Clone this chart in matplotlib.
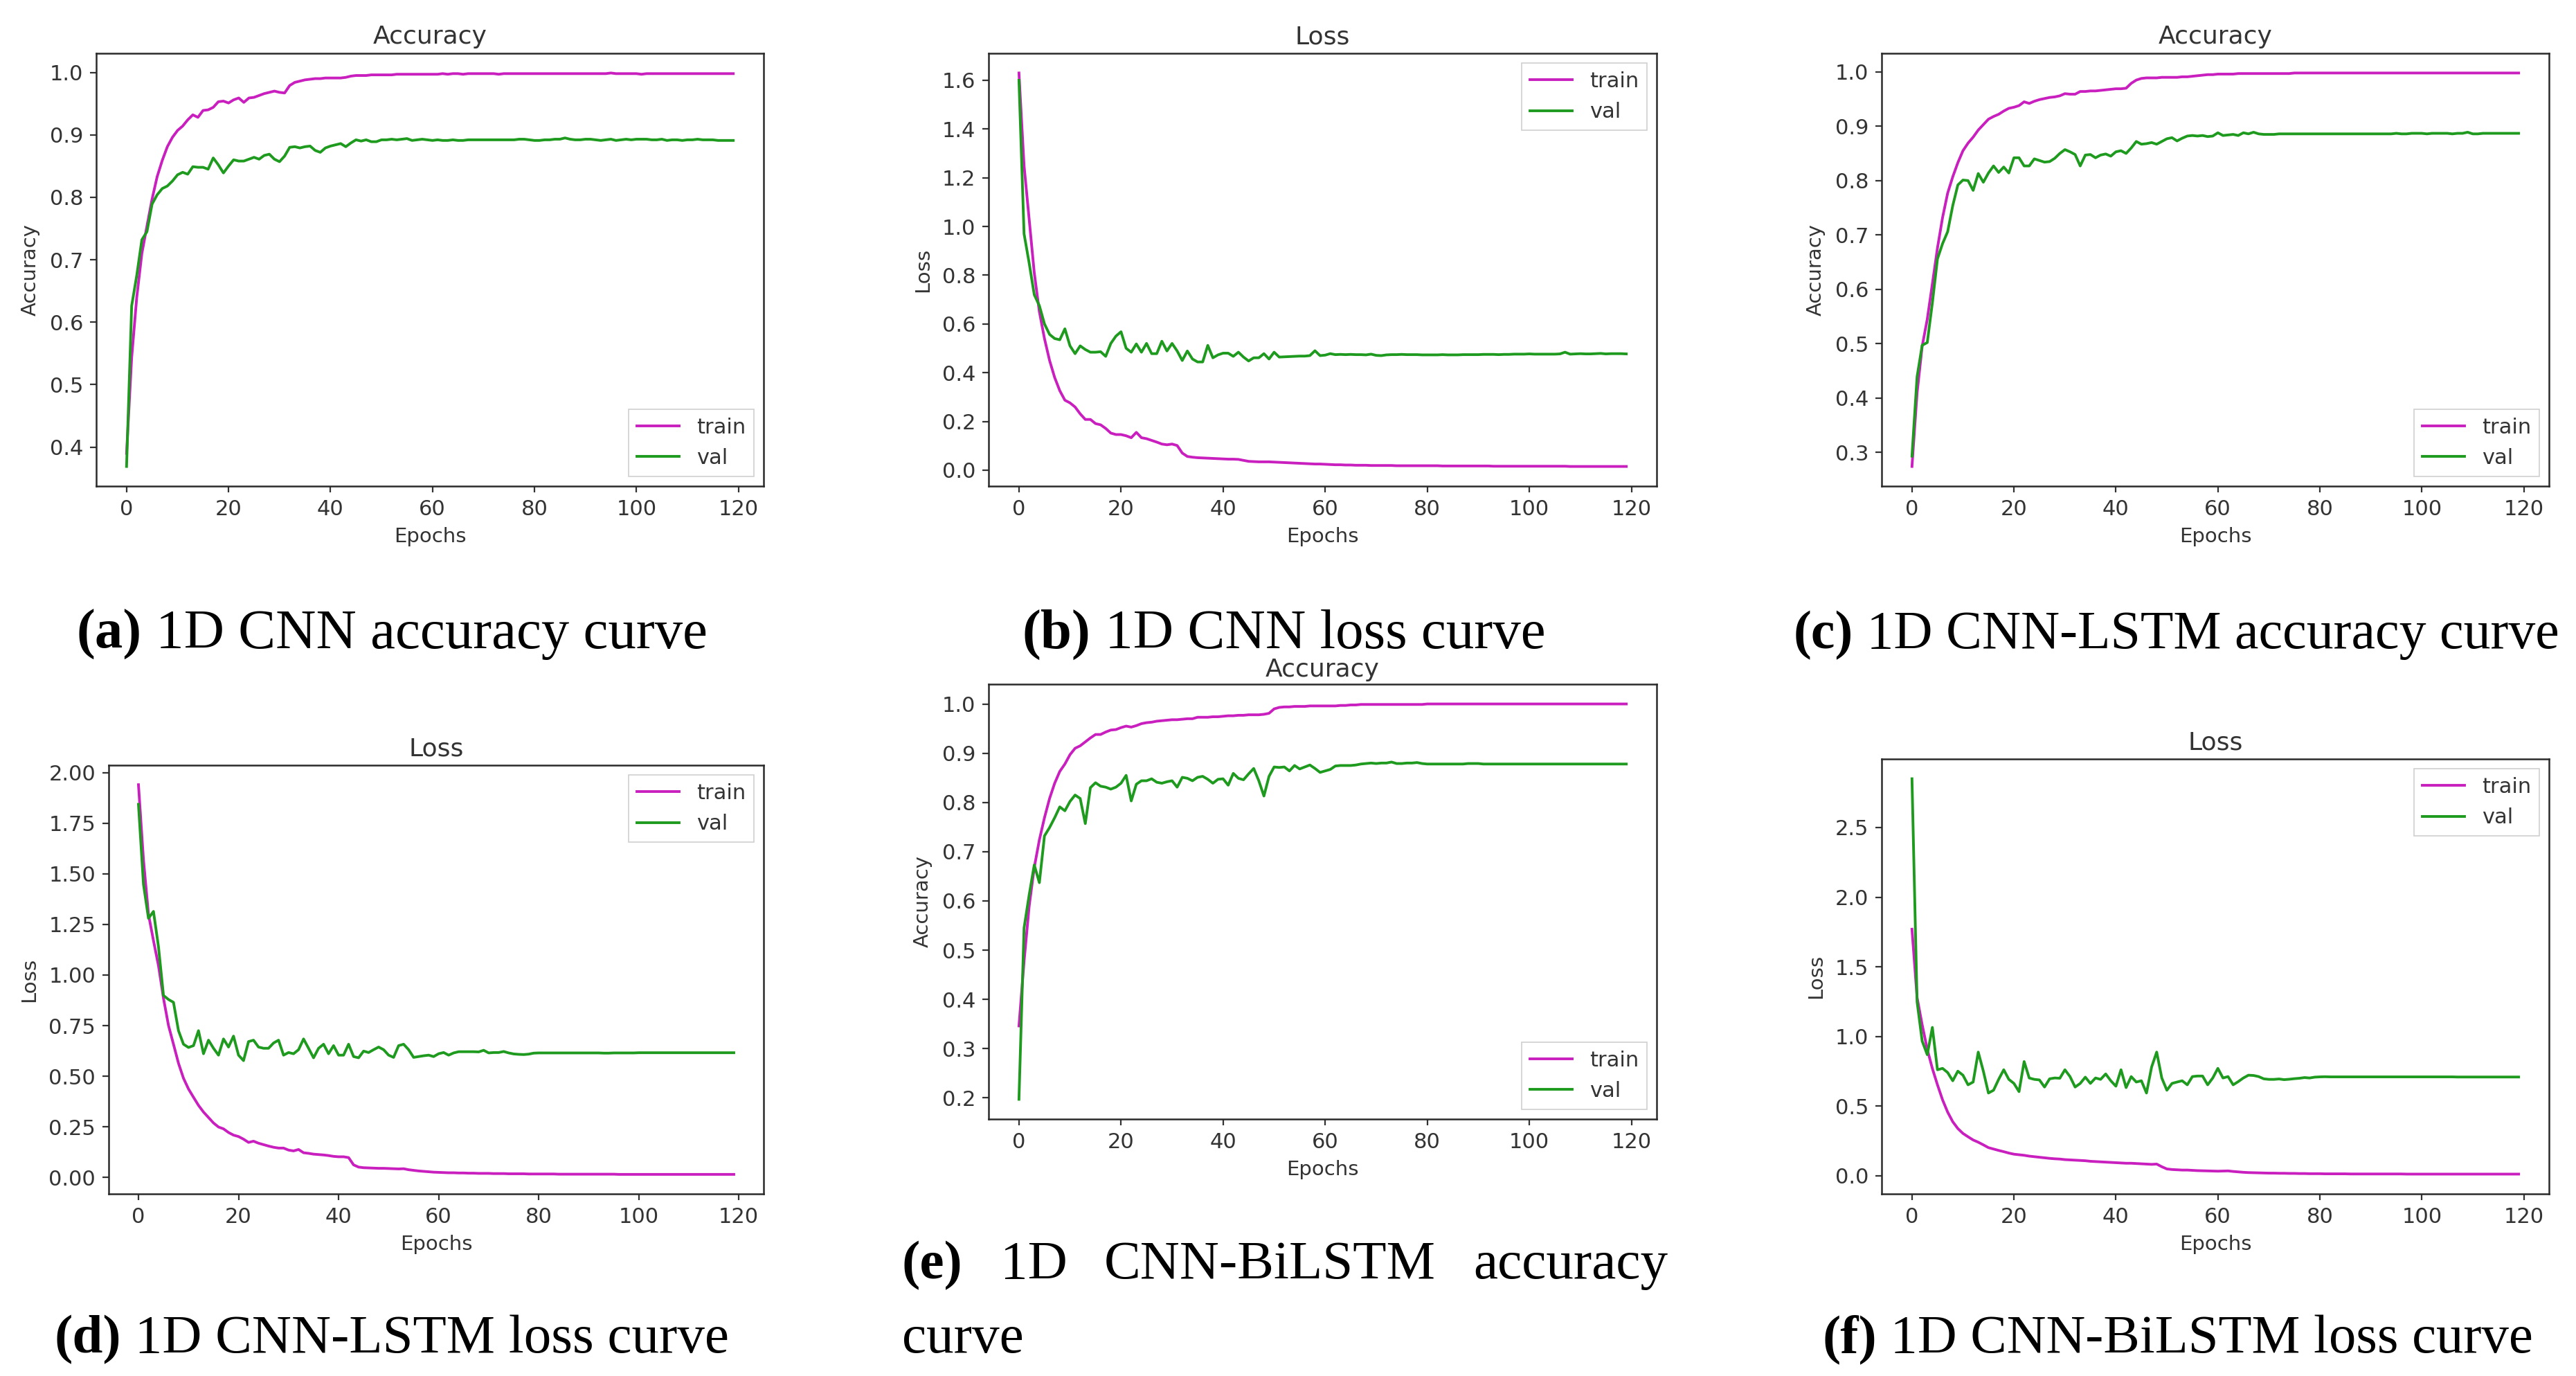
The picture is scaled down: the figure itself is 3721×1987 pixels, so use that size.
import matplotlib
matplotlib.use("Agg")
import matplotlib.pyplot as plt

# ---------------- data ----------------
epochs = list(range(120))
xticks = [0, 20, 40, 60, 80, 100, 120]
series_labels = ["train", "val"]

# (a) 1D CNN accuracy
acc_cnn_train = [
    0.390, 0.543, 0.640, 0.710, 0.754, 0.797, 0.833, 0.859, 0.881, 0.896,
    0.907, 0.914, 0.924, 0.932, 0.928, 0.939, 0.940, 0.944, 0.953, 0.954,
    0.951, 0.956, 0.959, 0.952, 0.959, 0.960, 0.963, 0.966, 0.968, 0.970,
    0.968, 0.967, 0.979, 0.984, 0.986, 0.988, 0.989, 0.990, 0.990, 0.991,
    0.991, 0.991, 0.991, 0.992, 0.994, 0.995, 0.995, 0.995, 0.996, 0.996,
    0.996, 0.996, 0.996, 0.997, 0.997, 0.997, 0.997, 0.997, 0.997, 0.997,
    0.997, 0.997, 0.998, 0.997, 0.998, 0.998, 0.997, 0.998, 0.998, 0.998,
    0.998, 0.998, 0.998, 0.997, 0.998, 0.998, 0.998, 0.998, 0.998, 0.998,
    0.998, 0.998, 0.998, 0.998, 0.998, 0.998, 0.998, 0.998, 0.998, 0.998,
    0.998, 0.998, 0.998, 0.998, 0.998, 0.999, 0.998, 0.998, 0.998, 0.998,
    0.998, 0.997, 0.998, 0.998, 0.998, 0.998, 0.998, 0.998, 0.998, 0.998,
    0.998, 0.998, 0.998, 0.998, 0.998, 0.998, 0.998, 0.998, 0.998, 0.998,
]
acc_cnn_val = [
    0.369, 0.626, 0.675, 0.732, 0.745, 0.789, 0.804, 0.814, 0.818, 0.826,
    0.836, 0.840, 0.837, 0.849, 0.848, 0.848, 0.845, 0.863, 0.852, 0.839,
    0.850, 0.860, 0.858, 0.858, 0.861, 0.864, 0.861, 0.867, 0.869, 0.861,
    0.857, 0.866, 0.880, 0.881, 0.879, 0.881, 0.882, 0.875, 0.872, 0.879,
    0.882, 0.884, 0.886, 0.881, 0.887, 0.892, 0.890, 0.892, 0.889, 0.889,
    0.892, 0.892, 0.893, 0.892, 0.893, 0.894, 0.891, 0.892, 0.893, 0.892,
    0.891, 0.892, 0.891, 0.891, 0.892, 0.891, 0.891, 0.892, 0.892, 0.892,
    0.892, 0.892, 0.892, 0.892, 0.892, 0.892, 0.892, 0.893, 0.893, 0.892,
    0.891, 0.891, 0.892, 0.892, 0.893, 0.893, 0.895, 0.893, 0.892, 0.892,
    0.893, 0.893, 0.892, 0.891, 0.892, 0.893, 0.891, 0.892, 0.893, 0.892,
    0.893, 0.893, 0.893, 0.892, 0.892, 0.893, 0.891, 0.892, 0.892, 0.891,
    0.892, 0.892, 0.893, 0.892, 0.892, 0.892, 0.891, 0.891, 0.891, 0.891,
]

# (b) 1D CNN loss
loss_cnn_train = [
    1.630, 1.250, 1.030, 0.810, 0.650, 0.540, 0.450, 0.380, 0.326, 0.287,
    0.276, 0.259, 0.231, 0.208, 0.208, 0.191, 0.186, 0.171, 0.152, 0.146,
    0.146, 0.141, 0.133, 0.155, 0.133, 0.129, 0.122, 0.115, 0.107, 0.104,
    0.107, 0.101, 0.070, 0.056, 0.053, 0.051, 0.050, 0.049, 0.048, 0.047,
    0.046, 0.045, 0.045, 0.044, 0.040, 0.036, 0.035, 0.034, 0.034, 0.034,
    0.033, 0.032, 0.031, 0.030, 0.029, 0.028, 0.027, 0.026, 0.025, 0.025,
    0.024, 0.023, 0.022, 0.022, 0.021, 0.021, 0.020, 0.020, 0.020, 0.019,
    0.019, 0.019, 0.019, 0.019, 0.018, 0.018, 0.018, 0.018, 0.018, 0.018,
    0.018, 0.018, 0.018, 0.017, 0.017, 0.017, 0.017, 0.017, 0.017, 0.017,
    0.017, 0.017, 0.017, 0.016, 0.016, 0.016, 0.016, 0.016, 0.016, 0.016,
    0.016, 0.016, 0.016, 0.016, 0.016, 0.016, 0.016, 0.016, 0.015, 0.015,
    0.015, 0.015, 0.015, 0.015, 0.015, 0.015, 0.015, 0.015, 0.015, 0.015,
]
loss_cnn_val = [
    1.600, 0.970, 0.850, 0.720, 0.675, 0.600, 0.557, 0.540, 0.535, 0.580,
    0.510, 0.478, 0.510, 0.495, 0.484, 0.484, 0.486, 0.467, 0.520, 0.550,
    0.568, 0.500, 0.484, 0.518, 0.484, 0.520, 0.478, 0.478, 0.529, 0.489,
    0.520, 0.489, 0.450, 0.489, 0.456, 0.444, 0.444, 0.512, 0.461, 0.473,
    0.480, 0.480, 0.467, 0.484, 0.464, 0.448, 0.461, 0.461, 0.478, 0.456,
    0.484, 0.464, 0.465, 0.466, 0.467, 0.468, 0.468, 0.470, 0.490, 0.470,
    0.472, 0.478, 0.474, 0.475, 0.474, 0.475, 0.474, 0.474, 0.473, 0.476,
    0.471, 0.470, 0.473, 0.474, 0.474, 0.475, 0.474, 0.474, 0.474, 0.473,
    0.473, 0.473, 0.473, 0.474, 0.473, 0.473, 0.473, 0.474, 0.474, 0.474,
    0.474, 0.475, 0.475, 0.475, 0.474, 0.475, 0.475, 0.476, 0.476, 0.476,
    0.477, 0.476, 0.476, 0.476, 0.476, 0.476, 0.477, 0.484, 0.476, 0.477,
    0.478, 0.477, 0.477, 0.478, 0.479, 0.477, 0.478, 0.478, 0.478, 0.477,
]

# (c) 1D CNN-LSTM accuracy
acc_lstm_train = [
    0.274, 0.409, 0.495, 0.545, 0.610, 0.676, 0.732, 0.777, 0.807, 0.833,
    0.855, 0.869, 0.880, 0.893, 0.903, 0.913, 0.918, 0.922, 0.928, 0.933,
    0.935, 0.938, 0.945, 0.942, 0.946, 0.949, 0.951, 0.953, 0.954, 0.956,
    0.960, 0.959, 0.959, 0.964, 0.964, 0.965, 0.965, 0.966, 0.967, 0.968,
    0.969, 0.969, 0.970, 0.979, 0.985, 0.988, 0.989, 0.989, 0.989, 0.990,
    0.990, 0.990, 0.990, 0.991, 0.991, 0.992, 0.993, 0.994, 0.995, 0.995,
    0.996, 0.996, 0.996, 0.996, 0.997, 0.997, 0.997, 0.997, 0.997, 0.997,
    0.997, 0.997, 0.997, 0.997, 0.997, 0.998, 0.998, 0.998, 0.998, 0.998,
    0.998, 0.998, 0.998, 0.998, 0.998, 0.998, 0.998, 0.998, 0.998, 0.998,
    0.998, 0.998, 0.998, 0.998, 0.998, 0.998, 0.998, 0.998, 0.998, 0.998,
    0.998, 0.998, 0.998, 0.998, 0.998, 0.998, 0.998, 0.998, 0.998, 0.998,
    0.998, 0.998, 0.998, 0.998, 0.998, 0.998, 0.998, 0.998, 0.998, 0.998,
]
acc_lstm_val = [
    0.293, 0.439, 0.497, 0.502, 0.575, 0.656, 0.684, 0.706, 0.754, 0.792,
    0.801, 0.800, 0.782, 0.813, 0.797, 0.814, 0.827, 0.815, 0.825, 0.814,
    0.842, 0.842, 0.827, 0.827, 0.840, 0.837, 0.834, 0.835, 0.841, 0.850,
    0.857, 0.853, 0.848, 0.827, 0.847, 0.848, 0.842, 0.847, 0.849, 0.845,
    0.853, 0.855, 0.850, 0.860, 0.872, 0.867, 0.868, 0.870, 0.867, 0.872,
    0.877, 0.879, 0.873, 0.878, 0.882, 0.883, 0.882, 0.883, 0.881, 0.882,
    0.888, 0.883, 0.884, 0.885, 0.883, 0.888, 0.886, 0.889, 0.886, 0.885,
    0.885, 0.885, 0.886, 0.886, 0.886, 0.886, 0.886, 0.886, 0.886, 0.886,
    0.886, 0.886, 0.886, 0.886, 0.886, 0.886, 0.886, 0.886, 0.886, 0.886,
    0.886, 0.886, 0.886, 0.886, 0.886, 0.887, 0.886, 0.886, 0.887, 0.887,
    0.887, 0.886, 0.887, 0.887, 0.887, 0.887, 0.886, 0.887, 0.887, 0.889,
    0.886, 0.886, 0.887, 0.887, 0.887, 0.887, 0.887, 0.887, 0.887, 0.887,
]

# (d) 1D CNN-LSTM loss
loss_lstm_train = [
    1.940, 1.570, 1.300, 1.170, 1.046, 0.885, 0.751, 0.658, 0.564, 0.490,
    0.437, 0.396, 0.356, 0.323, 0.296, 0.269, 0.249, 0.240, 0.222, 0.209,
    0.202, 0.189, 0.173, 0.179, 0.169, 0.162, 0.155, 0.149, 0.145, 0.145,
    0.135, 0.131, 0.138, 0.122, 0.119, 0.115, 0.113, 0.111, 0.108, 0.104,
    0.102, 0.102, 0.098, 0.062, 0.051, 0.048, 0.047, 0.046, 0.045, 0.045,
    0.044, 0.043, 0.042, 0.043, 0.038, 0.035, 0.032, 0.030, 0.028, 0.026,
    0.025, 0.024, 0.023, 0.023, 0.022, 0.022, 0.021, 0.021, 0.020, 0.020,
    0.020, 0.019, 0.019, 0.019, 0.018, 0.018, 0.018, 0.018, 0.017, 0.017,
    0.017, 0.017, 0.017, 0.017, 0.016, 0.016, 0.016, 0.016, 0.016, 0.016,
    0.016, 0.016, 0.016, 0.016, 0.016, 0.016, 0.015, 0.015, 0.015, 0.015,
    0.015, 0.015, 0.015, 0.015, 0.015, 0.015, 0.015, 0.015, 0.015, 0.015,
    0.015, 0.015, 0.015, 0.015, 0.015, 0.015, 0.015, 0.015, 0.015, 0.015,
]
loss_lstm_val = [
    1.843, 1.448, 1.280, 1.314, 1.140, 0.899, 0.879, 0.865, 0.725, 0.658,
    0.642, 0.651, 0.725, 0.611, 0.678, 0.638, 0.604, 0.684, 0.644, 0.698,
    0.604, 0.577, 0.671, 0.678, 0.644, 0.638, 0.638, 0.664, 0.678, 0.604,
    0.617, 0.611, 0.631, 0.684, 0.638, 0.591, 0.638, 0.658, 0.611, 0.651,
    0.604, 0.604, 0.658, 0.597, 0.591, 0.624, 0.617, 0.631, 0.644, 0.631,
    0.604, 0.593, 0.651, 0.658, 0.631, 0.593, 0.597, 0.601, 0.604, 0.597,
    0.611, 0.617, 0.604, 0.615, 0.621, 0.621, 0.621, 0.621, 0.620, 0.628,
    0.615, 0.617, 0.617, 0.622, 0.615, 0.610, 0.608, 0.607, 0.609, 0.614,
    0.615, 0.615, 0.615, 0.615, 0.615, 0.615, 0.615, 0.615, 0.615, 0.615,
    0.615, 0.615, 0.615, 0.614, 0.614, 0.615, 0.615, 0.615, 0.615, 0.615,
    0.616, 0.616, 0.616, 0.616, 0.616, 0.616, 0.616, 0.616, 0.616, 0.616,
    0.616, 0.616, 0.616, 0.616, 0.616, 0.616, 0.616, 0.616, 0.616, 0.616,
]

# (e) 1D CNN-BiLSTM accuracy
acc_bilstm_train = [
    0.346, 0.477, 0.589, 0.668, 0.724, 0.769, 0.808, 0.839, 0.863, 0.878,
    0.897, 0.910, 0.915, 0.923, 0.931, 0.938, 0.938, 0.943, 0.947, 0.948,
    0.952, 0.955, 0.953, 0.956, 0.960, 0.962, 0.963, 0.965, 0.966, 0.967,
    0.968, 0.968, 0.969, 0.970, 0.970, 0.973, 0.973, 0.973, 0.974, 0.974,
    0.975, 0.976, 0.976, 0.977, 0.977, 0.978, 0.978, 0.978, 0.979, 0.981,
    0.990, 0.993, 0.994, 0.994, 0.995, 0.995, 0.995, 0.996, 0.996, 0.996,
    0.996, 0.996, 0.996, 0.997, 0.997, 0.998, 0.998, 0.999, 0.999, 0.999,
    0.999, 0.999, 0.999, 0.999, 0.999, 0.999, 0.999, 0.999, 0.999, 0.999,
    1.000, 1.000, 1.000, 1.000, 1.000, 1.000, 1.000, 1.000, 1.000, 1.000,
    1.000, 1.000, 1.000, 1.000, 1.000, 1.000, 1.000, 1.000, 1.000, 1.000,
    1.000, 1.000, 1.000, 1.000, 1.000, 1.000, 1.000, 1.000, 1.000, 1.000,
    1.000, 1.000, 1.000, 1.000, 1.000, 1.000, 1.000, 1.000, 1.000, 1.000,
]
acc_bilstm_val = [
    0.197, 0.545, 0.612, 0.673, 0.637, 0.732, 0.749, 0.769, 0.791, 0.783,
    0.802, 0.815, 0.808, 0.757, 0.830, 0.840, 0.833, 0.831, 0.827, 0.831,
    0.839, 0.855, 0.803, 0.837, 0.844, 0.844, 0.848, 0.841, 0.839, 0.842,
    0.844, 0.831, 0.851, 0.849, 0.844, 0.851, 0.853, 0.847, 0.839, 0.847,
    0.848, 0.835, 0.859, 0.849, 0.846, 0.858, 0.869, 0.844, 0.813, 0.853,
    0.872, 0.871, 0.872, 0.864, 0.875, 0.868, 0.872, 0.876, 0.869, 0.861,
    0.864, 0.867, 0.874, 0.875, 0.875, 0.875, 0.876, 0.878, 0.879, 0.880,
    0.879, 0.880, 0.880, 0.882, 0.879, 0.879, 0.880, 0.880, 0.881, 0.879,
    0.878, 0.878, 0.878, 0.878, 0.878, 0.878, 0.878, 0.878, 0.879, 0.879,
    0.879, 0.878, 0.878, 0.878, 0.878, 0.878, 0.878, 0.878, 0.878, 0.878,
    0.878, 0.878, 0.878, 0.878, 0.878, 0.878, 0.878, 0.878, 0.878, 0.878,
    0.878, 0.878, 0.878, 0.878, 0.878, 0.878, 0.878, 0.878, 0.878, 0.878,
]

# (f) 1D CNN-BiLSTM loss
loss_bilstm_train = [
    1.770, 1.280, 1.084, 0.908, 0.770, 0.653, 0.545, 0.457, 0.388, 0.339,
    0.304, 0.280, 0.257, 0.241, 0.222, 0.202, 0.192, 0.182, 0.173, 0.163,
    0.155, 0.151, 0.147, 0.141, 0.137, 0.133, 0.129, 0.125, 0.122, 0.120,
    0.116, 0.114, 0.112, 0.110, 0.108, 0.104, 0.102, 0.100, 0.098, 0.096,
    0.094, 0.092, 0.090, 0.090, 0.088, 0.086, 0.084, 0.082, 0.084, 0.065,
    0.049, 0.045, 0.043, 0.041, 0.041, 0.039, 0.037, 0.036, 0.035, 0.034,
    0.033, 0.034, 0.035, 0.031, 0.028, 0.025, 0.023, 0.022, 0.021, 0.020,
    0.019, 0.019, 0.018, 0.018, 0.017, 0.017, 0.016, 0.016, 0.015, 0.015,
    0.015, 0.014, 0.014, 0.014, 0.014, 0.014, 0.013, 0.013, 0.013, 0.013,
    0.013, 0.013, 0.013, 0.013, 0.013, 0.013, 0.013, 0.012, 0.012, 0.012,
    0.012, 0.012, 0.012, 0.012, 0.012, 0.012, 0.012, 0.012, 0.012, 0.012,
    0.012, 0.012, 0.012, 0.012, 0.012, 0.012, 0.012, 0.012, 0.012, 0.012,
]
loss_bilstm_val = [
    2.850, 1.250, 0.967, 0.869, 1.065, 0.761, 0.771, 0.741, 0.682, 0.751,
    0.722, 0.653, 0.673, 0.888, 0.751, 0.594, 0.614, 0.692, 0.761, 0.692,
    0.663, 0.604, 0.820, 0.702, 0.692, 0.688, 0.637, 0.696, 0.702, 0.700,
    0.761, 0.712, 0.637, 0.663, 0.708, 0.663, 0.702, 0.692, 0.731, 0.682,
    0.643, 0.761, 0.633, 0.712, 0.673, 0.682, 0.594, 0.780, 0.888, 0.702,
    0.614, 0.663, 0.673, 0.682, 0.653, 0.712, 0.716, 0.716, 0.653, 0.702,
    0.771, 0.702, 0.712, 0.653, 0.676, 0.702, 0.722, 0.720, 0.712, 0.696,
    0.692, 0.692, 0.695, 0.690, 0.693, 0.697, 0.700, 0.705, 0.702, 0.708,
    0.710, 0.711, 0.710, 0.710, 0.710, 0.710, 0.710, 0.710, 0.710, 0.710,
    0.710, 0.710, 0.710, 0.710, 0.710, 0.710, 0.710, 0.710, 0.710, 0.710,
    0.710, 0.710, 0.710, 0.710, 0.710, 0.710, 0.710, 0.709, 0.709, 0.709,
    0.709, 0.709, 0.709, 0.709, 0.709, 0.709, 0.709, 0.709, 0.709, 0.709,
]

titles = ["Accuracy", "Loss", "Accuracy", "Loss", "Accuracy", "Loss"]
ylabels = ["Accuracy", "Loss", "Accuracy", "Loss", "Accuracy", "Loss"]
yticks_a = [0.4, 0.5, 0.6, 0.7, 0.8, 0.9, 1.0]
yticks_b = [0.0, 0.2, 0.4, 0.6, 0.8, 1.0, 1.2, 1.4, 1.6]
yticks_c = [0.3, 0.4, 0.5, 0.6, 0.7, 0.8, 0.9, 1.0]
yticks_d = [0.00, 0.25, 0.50, 0.75, 1.00, 1.25, 1.50, 1.75, 2.00]
yticks_e = [0.2, 0.3, 0.4, 0.5, 0.6, 0.7, 0.8, 0.9, 1.0]
yticks_f = [0.0, 0.5, 1.0, 1.5, 2.0, 2.5]
ytick_fmt = ["{:.1f}", "{:.1f}", "{:.1f}", "{:.2f}", "{:.1f}", "{:.1f}"]
legend_locs = ["lower right", "upper right", "lower right",
               "upper right", "lower right", "upper right"]
caption_tags = ["(a)", "(b)", "(c)", "(d)", "(e)", "(f)"]
caption_texts = ["1D CNN accuracy curve", "1D CNN loss curve",
                 "1D CNN-LSTM accuracy curve", "1D CNN-LSTM loss curve",
                 "1D CNN-BiLSTM accuracy curve", "1D CNN-BiLSTM loss curve"]

train_series = [acc_cnn_train, loss_cnn_train, acc_lstm_train,
                loss_lstm_train, acc_bilstm_train, loss_bilstm_train]
val_series = [acc_cnn_val, loss_cnn_val, acc_lstm_val,
              loss_lstm_val, acc_bilstm_val, loss_bilstm_val]
yticks_all = [yticks_a, yticks_b, yticks_c, yticks_d, yticks_e, yticks_f]

# ---------------- layout (pixels) ----------------
W, H = 3721, 1987
DPI = 100
# (left, top, right, bottom)
axes_px = [
    (139, 77, 1103, 702),
    (1428, 77, 2393, 702),
    (2718, 77, 3682, 702),
    (157, 1105, 1103, 1724),
    (1428, 988, 2393, 1616),
    (2718, 1096, 3682, 1724),
]
title_pads = [10, 10, 10, 10, 8, 10]
# caption: (left x, right x, baseline y, justified?)
caption_px = [
    (111, 1021, 936, False),
    (1477, 2232, 936, False),
    (2591, 3695, 936, False),
    (78, 1052, 1953, False),
    (1303, 2409, 1846, True),
    (2632, 3658, 1953, False),
]

TRAIN_C = "#c81fbe"
VAL_C = "#1e9a1e"
TXT_C = "#333333"
TICK_FS = 22
LABEL_FS = 21
TITLE_FS = 26
CAP_FS = 57
SANS = ["DejaVu Sans"]
SERIF = ["Liberation Serif", "DejaVu Serif"]

plt.rcParams["font.family"] = SANS

fig = plt.figure(figsize=(W / DPI, H / DPI), dpi=DPI)
fig.patch.set_facecolor("white")

for i in range(6):
    l, t, r, b = axes_px[i]
    ax = fig.add_axes([l / W, 1 - b / H, (r - l) / W, (b - t) / H])
    ax.plot(epochs, train_series[i], color=TRAIN_C, lw=2.8, label=series_labels[0])
    ax.plot(epochs, val_series[i], color=VAL_C, lw=2.8, label=series_labels[1])
    ax.set_xticks(xticks)
    ax.set_yticks(yticks_all[i])
    ax.set_yticklabels([ytick_fmt[i].format(v) for v in yticks_all[i]])
    ax.tick_params(axis="both", labelsize=TICK_FS, colors=TXT_C,
                   length=6.5, width=1.6, pad=7)
    for sp in ax.spines.values():
        sp.set_linewidth(1.8)
        sp.set_color("#2a2a2a")
    ax.set_title(titles[i], fontsize=TITLE_FS, color=TXT_C, pad=title_pads[i])
    ax.set_xlabel("Epochs", fontsize=LABEL_FS, color=TXT_C, labelpad=8)
    ax.set_ylabel(ylabels[i], fontsize=LABEL_FS, color=TXT_C, labelpad=10)
    leg = ax.legend(loc=legend_locs[i], fontsize=TICK_FS, fancybox=False,
                    framealpha=1.0, edgecolor="#cfcfcf", handlelength=2.0,
                    borderaxespad=0.45)
    leg.get_frame().set_linewidth(1.2)
    for txt in leg.get_texts():
        txt.set_color(TXT_C)

# ---------------- captions ----------------
renderer = fig.canvas.get_renderer()


def px_text(x, y, s, size, **kw):
    return fig.text(x / W, 1 - y / H, s, va="baseline", ha="left",
                    fontsize=size, family=SERIF, color="black", **kw)


def width_px(t):
    return t.get_window_extent(renderer=renderer).width


for i in range(6):
    x0, x1, yb, justified = caption_px[i]
    if not justified:
        t1 = px_text(x0, yb, caption_tags[i], CAP_FS, fontweight="bold")
        t2 = px_text(x0, yb, " " + caption_texts[i], CAP_FS)
        total = width_px(t1) + width_px(t2)
        size = CAP_FS * (x1 - x0) / total
        t1.set_fontsize(size)
        t2.set_fontsize(size)
        t2.set_x((x0 + width_px(t1)) / W)
    else:
        words = caption_texts[i].split(" ")
        first = [caption_tags[i]] + words[:-1]
        objs = []
        for k, wd in enumerate(first):
            objs.append(px_text(0, yb, wd, CAP_FS,
                                fontweight="bold" if k == 0 else "normal"))
        widths = [width_px(o) for o in objs]
        gap = (x1 - x0 - sum(widths)) / (len(first) - 1)
        xx = x0
        for o, wdt in zip(objs, widths):
            o.set_x(xx / W)
            xx += wdt + gap
        px_text(x0, 1953, words[-1], CAP_FS)

fig.savefig("out.png", dpi=DPI, facecolor="white")
